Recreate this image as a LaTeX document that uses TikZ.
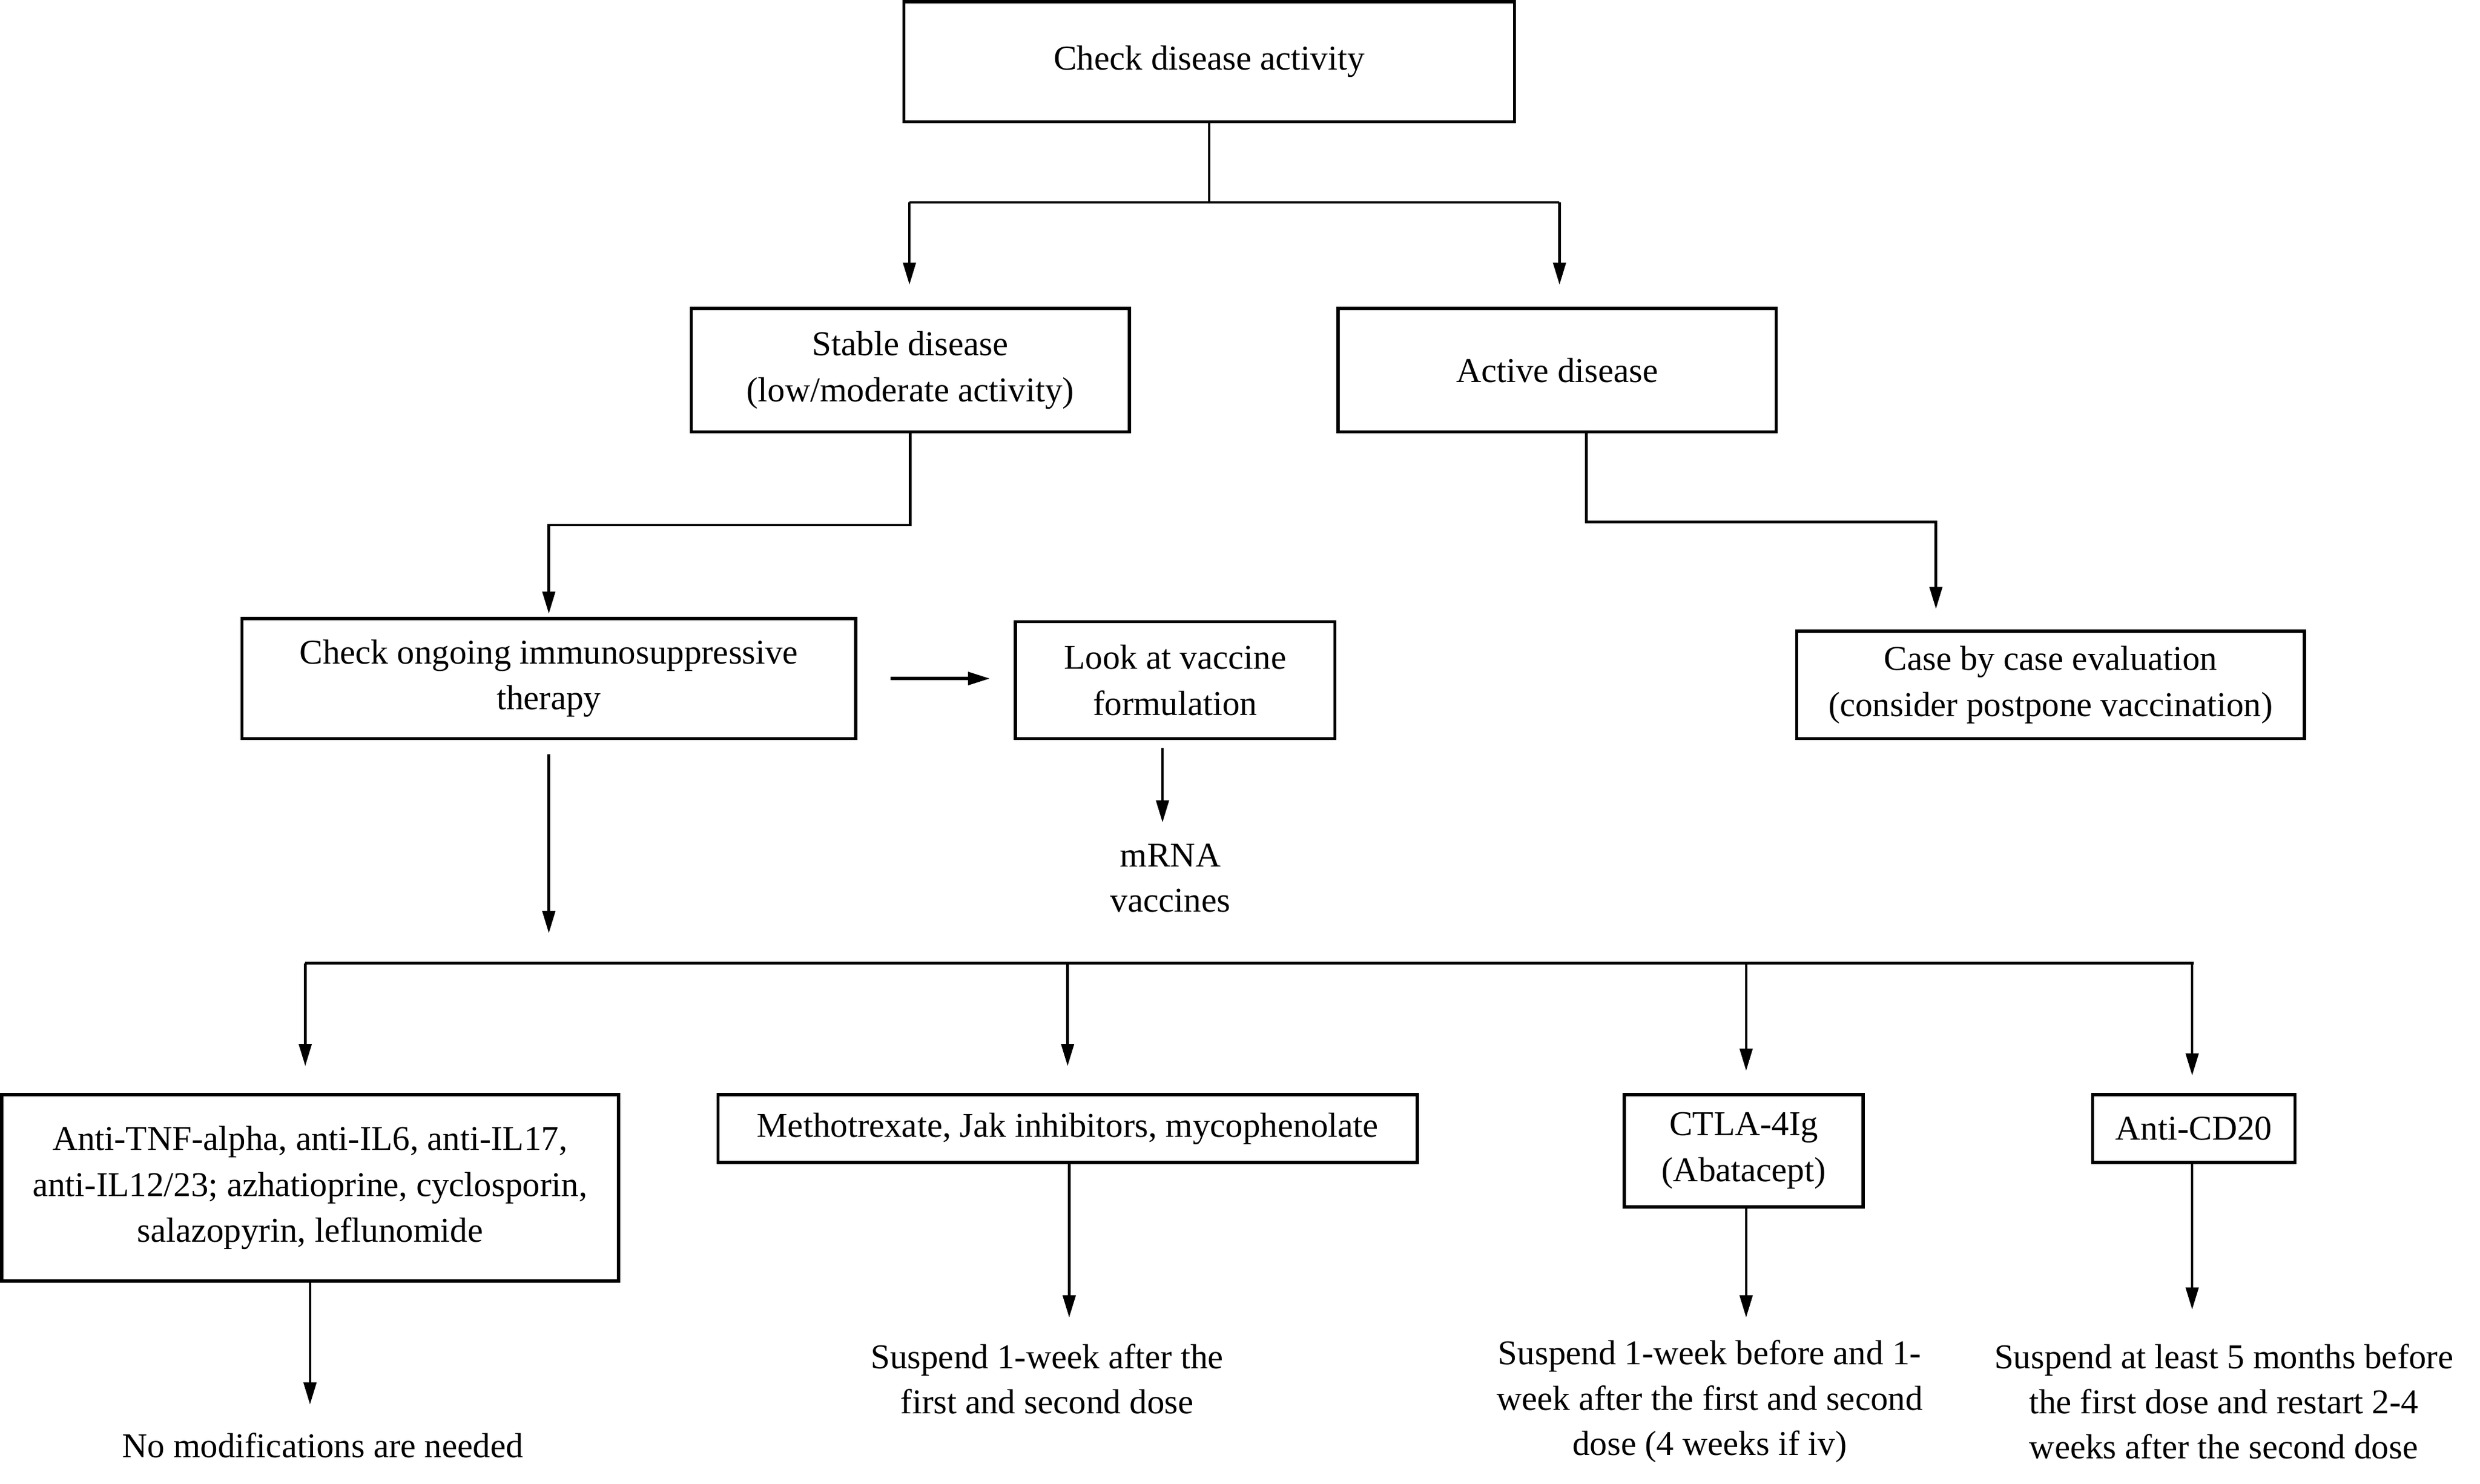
\documentclass[tikz,border=0pt]{standalone}
\usepackage{fontspec}
\setmainfont{Liberation Serif}
\usetikzlibrary{arrows.meta}
\begin{document}
\begin{tikzpicture}[x=1pt,y=-1pt,
  box/.style={draw, line width=2pt, inner sep=0pt, align=center, font=\fontsize{22}{29}\selectfont},
  txt/.style={inner sep=0pt, align=center, font=\fontsize{22}{28.5}\selectfont},
  conn/.style={line width=1.6pt},
  arr/.style={line width=1.6pt, -{Triangle[length=14pt,width=8pt]}}]
\useasboundingbox (0,0) rectangle (1568,938);
% nodes
\node[box, minimum width=386pt, minimum height=76pt] (b1) at (764.5,39) {Check disease activity};
\node[box, minimum width=277pt, minimum height=78pt] (b2) at (575.5,234) {Stable disease\\(low/moderate activity)};
\node[box, minimum width=277pt, minimum height=78pt] (b3) at (984.5,234) {Active disease};
\node[box, minimum width=388pt, minimum height=76pt] (b4) at (347,429) {Check ongoing immunosuppressive\\therapy};
\node[box, minimum width=202pt, minimum height=74pt] (b5) at (743,430) {Look at vaccine\\formulation};
\node[box, minimum width=321pt, minimum height=68pt] (b6) at (1296.5,433) {Case by case evaluation\\(consider postpone vaccination)};
\node[txt] (t5) at (740,555) {mRNA\\vaccines};
\node[box, minimum width=390pt, minimum height=118pt] (b7) at (196,751) {Anti-TNF-alpha, anti-IL6, anti-IL17,\\anti-IL12/23; azhatioprine, cyclosporin,\\salazopyrin, leflunomide};
\node[box, minimum width=442pt, minimum height=43pt] (b8) at (675,713.5) {Methotrexate, Jak inhibitors, mycophenolate};
\node[box, minimum width=151pt, minimum height=71pt] (b9) at (1102.5,727.5) {CTLA-4Ig\\(Abatacept)};
\node[box, minimum width=128pt, minimum height=43pt] (b10) at (1387,713.5) {Anti-CD20};
\node[txt] (t7) at (204,914) {No modifications are needed};
\node[txt] (t8) at (662,872) {Suspend 1-week after the\\first and second dose};
\node[txt] (t9) at (1081,886) {Suspend 1-week before and 1-\\week after the first and second\\dose (4 weeks if iv)};
\node[txt] (t10) at (1406,886) {Suspend at least 5 months before\\the first dose and restart 2-4\\weeks after the second dose};
% junction coordinates
\coordinate (j1) at (764.5,128);
\coordinate (j1L) at (575,128);
\coordinate (j1R) at (986,128);
\coordinate (busL) at (193,609);
\coordinate (busR) at (1387,609);
\coordinate (e2) at (575,180);
\coordinate (e3) at (986,180);
\coordinate (e4) at (347,590);
\coordinate (e5) at (735,520);
\coordinate (e7) at (196,888);
\coordinate (e8) at (676,833);
\coordinate (e9) at (1104,833);
\coordinate (e10) at (1386,828);
% top split
\draw[conn] (b1.south) -- (j1);
\draw[conn] (j1L) -- (j1R);
\draw[arr] (j1L) -- (e2);
\draw[arr] (j1R) -- (e3);
% stable -> check ongoing
\draw[arr, shorten >=2pt] (b2.south) -- ++(0,58) -| (b4.north);
% active -> case by case
\draw[arr, shorten >=13pt] ([xshift=18.5pt]b3.south) -- ++(0,56) -| ([xshift=-72.5pt]b6.north);
% check ongoing -> look at vaccine
\draw[arr, shorten <=21pt, shorten >=15pt, line width=2.2pt] (b4.east) -- (b4.east -| b5.west);
% look at vaccine -> mRNA
\draw[arr, shorten <=5pt] ([xshift=-8pt]b5.south) -- (e5);
% check ongoing -> bus
\draw[arr, shorten <=9pt] (b4.south) -- (e4);
\draw[line width=2pt] (busL) -- (busR);
\draw[arr, shorten >=17pt] (busL) -- (busL |- b7.north);
\draw[arr, shorten >=17pt] (b8.north |- busL) -- (b8.north);
\draw[arr, shorten >=14pt] ([xshift=1.5pt]b9.north |- busL) -- ([xshift=1.5pt]b9.north);
\draw[arr, shorten >=11pt] ([xshift=-1pt]b10.north |- busR) -- ([xshift=-1pt]b10.north);
% drops to outcome texts
\draw[arr] (b7.south) -- (e7);
\draw[arr] (b8.south -| e8) -- (e8);
\draw[arr] (b9.south -| e9) -- (e9);
\draw[arr] (b10.south -| e10) -- (e10);
\end{tikzpicture}
\end{document}
